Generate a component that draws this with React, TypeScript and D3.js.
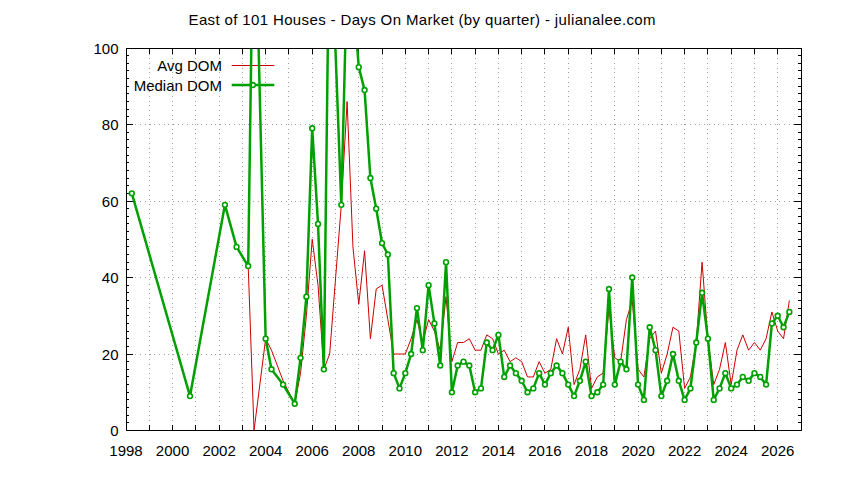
import React from 'react';
import * as d3 from 'd3';

// Quarter positions (decimal year)
const quarters = [
  1998.25, 2000.75, 2002.25, 2002.75, 2003.25, 2003.5, 2004.0, 2004.25, 2004.75,
  2005.25, 2005.5, 2005.75, 2006.0, 2006.25, 2006.5, 2006.75, 2007.25, 2007.5, 2007.75,
  2008.0, 2008.25, 2008.5, 2008.75, 2009.0, 2009.25, 2009.5, 2009.75,
  2010.0, 2010.25, 2010.5, 2010.75, 2011.0, 2011.25, 2011.5, 2011.75,
  2012.0, 2012.25, 2012.5, 2012.75, 2013.0, 2013.25, 2013.5, 2013.75,
  2014.0, 2014.25, 2014.5, 2014.75, 2015.0, 2015.25, 2015.5, 2015.75,
  2016.0, 2016.25, 2016.5, 2016.75, 2017.0, 2017.25, 2017.5, 2017.75,
  2018.0, 2018.25, 2018.5, 2018.75, 2019.0, 2019.25, 2019.5, 2019.75,
  2020.0, 2020.25, 2020.5, 2020.75, 2021.0, 2021.25, 2021.5, 2021.75,
  2022.0, 2022.25, 2022.5, 2022.75, 2023.0, 2023.25, 2023.5, 2023.75,
  2024.0, 2024.25, 2024.5, 2024.75, 2025.0, 2025.25, 2025.5, 2025.75,
  2026.0, 2026.25, 2026.5,
];

const avgDom = [
  62, 9, 59, 48, 43, 0, 24, 21, 13,
  7, 15, 30, 50, 38, 16, 20, 59, 86, 48,
  33, 47, 24, 37, 38, 29, 20, 20,
  20, 24, 29, 23, 29, 26, 21, 35,
  18, 23, 23, 24, 21, 21, 25, 24,
  20, 21, 18, 19, 18, 14, 14, 18,
  15, 16, 24, 20, 27, 12, 16, 25,
  11, 14, 15, 32, 19, 18, 29, 34,
  16, 14, 24, 26, 15, 20, 27, 26,
  11, 14, 23, 44, 24, 12, 16, 23,
  12, 21, 25, 21, 23, 21, 24, 31,
  26, 24, 34,
];

const medianDom = [
  62, 9, 59, 48, 43, 150, 24, 16, 12,
  7, 19, 35, 79, 54, 16, 140, 59, 120, 115,
  95, 89, 66, 58, 49, 46, 15, 11,
  15, 20, 32, 21, 38, 28, 17, 44,
  10, 17, 18, 17, 10, 11, 23, 21,
  25, 14, 17, 15, 13, 10, 11, 15,
  12, 15, 17, 15, 12, 9, 13, 18,
  9, 10, 12, 37, 12, 18, 16, 40,
  12, 8, 27, 21, 9, 13, 20, 13,
  8, 11, 23, 36, 24, 8, 11, 15,
  11, 12, 14, 13, 15, 14, 12, 28,
  30, 27, 31,
];

const xTickLabels = ['1998', '2000', '2002', '2004', '2006', '2008', '2010', '2012', '2014', '2016', '2018', '2020', '2022', '2024', '2026'];
const yTickLabels = ['0', '20', '40', '60', '80', '100'];

const title = 'East of 101 Houses - Days On Market (by quarter) - julianalee.com';
const seriesNames = ['Avg DOM', 'Median DOM'];

const W = 844;
const H = 480;
const L = 126;
const R = 801;
const T = 48;
const B = 430.5;

const RED = '#cc0000';
const GREEN = '#00a000';
const FONT = '"Liberation Sans", Arial, sans-serif';

export default function App() {
  const x = d3.scaleLinear().domain([1998, 2027]).range([L, R]);
  const y = d3.scaleLinear().domain([0, 100]).range([B, T]);

  const idx = d3.range(quarters.length);
  const lineAvg = d3.line<number>().x((i) => x(quarters[i])).y((i) => y(avgDom[i]));
  const lineMed = d3.line<number>().x((i) => x(quarters[i])).y((i) => y(medianDom[i]));

  const years = d3.range(1999, 2027);
  const yMajor = yTickLabels.map(Number);
  const yMinor = d3.range(0, 101, 2).filter((v) => v % 20 !== 0);

  const legendX = 222;
  const legendLine0 = 231.7;
  const legendLine1 = 274.3;

  return (
    <svg
      width={W}
      height={H}
      viewBox={`0 0 ${W} ${H}`}
      style={{ position: 'absolute', left: 0, top: 0, background: '#fff' }}
      fontFamily={FONT}
    >
      <defs>
        <clipPath id="plotclip">
          <rect x={L} y={T} width={R - L} height={B - T} />
        </clipPath>
      </defs>
      <rect x={0} y={0} width={W} height={H} fill="#fff" />

      {/* grid */}
      <g stroke="#a0a0a0" strokeWidth={1} strokeDasharray="1,3.7" shapeRendering="crispEdges">
        {years.map((yr) => (
          <line key={'gx' + yr} x1={x(yr)} x2={x(yr)} y1={B} y2={T} />
        ))}
        {yMajor.filter((v) => v > 0 && v < 100).map((v) => (
          <line key={'gy' + v} x1={L} x2={R} y1={y(v)} y2={y(v)} />
        ))}
      </g>

      {/* ticks */}
      <g stroke="#000" strokeWidth={1} shapeRendering="crispEdges">
        {years.map((yr) => (
          <g key={'tx' + yr}>
            <line x1={x(yr)} x2={x(yr)} y1={B} y2={B - 6} />
            <line x1={x(yr)} x2={x(yr)} y1={T} y2={T + 6} />
          </g>
        ))}
        {yMajor.map((v) => (
          <g key={'ty' + v}>
            <line x1={L} x2={L + 7} y1={y(v)} y2={y(v)} />
            <line x1={R} x2={R - 7} y1={y(v)} y2={y(v)} />
          </g>
        ))}
        {yMinor.map((v) => (
          <g key={'tm' + v}>
            <line x1={L} x2={L + 3} y1={y(v)} y2={y(v)} />
            <line x1={R} x2={R - 3} y1={y(v)} y2={y(v)} />
          </g>
        ))}
      </g>

      {/* tick labels */}
      <g fontSize={15} fill="#000">
        {xTickLabels.map((lab) => (
          <text key={'lx' + lab} x={x(Number(lab))} y={455.5} textAnchor="middle">
            {lab}
          </text>
        ))}
        {yTickLabels.map((lab) => (
          <text key={'ly' + lab} x={118.5} y={y(Number(lab)) + 5.5} textAnchor="end">
            {lab}
          </text>
        ))}
      </g>

      {/* title */}
      <text x={422} y={25} fontSize={15} textAnchor="middle" textLength={467} lengthAdjust="spacing" fill="#000">
        {title}
      </text>

      {/* legend */}
      <g fontSize={15} fill="#000">
        <text x={legendX} y={71} textAnchor="end">{seriesNames[0]}</text>
        <line x1={legendLine0} x2={legendLine1} y1={65.5} y2={65.5} stroke={RED} strokeWidth={1} />
        <text x={legendX} y={90.7} textAnchor="end">{seriesNames[1]}</text>
        <line x1={legendLine0} x2={legendLine1} y1={85} y2={85} stroke={GREEN} strokeWidth={2.5} />
        <circle cx={(legendLine0 + legendLine1) / 2} cy={85} r={2.4} fill="#fff" stroke={GREEN} strokeWidth={1.6} />
      </g>

      {/* data */}
      <g clipPath="url(#plotclip)">
        <path d={lineAvg(idx) || ''} fill="none" stroke={RED} strokeWidth={1} strokeLinejoin="miter" />
        <path d={lineMed(idx) || ''} fill="none" stroke={GREEN} strokeWidth={2.5} strokeLinejoin="round" />
        {idx.map((i) => (
          <circle
            key={'m' + i}
            cx={x(quarters[i])}
            cy={y(medianDom[i])}
            r={2.4}
            fill="#fff"
            stroke={GREEN}
            strokeWidth={1.6}
          />
        ))}
      </g>

      {/* border */}
      <rect x={L} y={T} width={R - L} height={B - T} fill="none" stroke="#000" strokeWidth={1} shapeRendering="crispEdges" />
    </svg>
  );
}
